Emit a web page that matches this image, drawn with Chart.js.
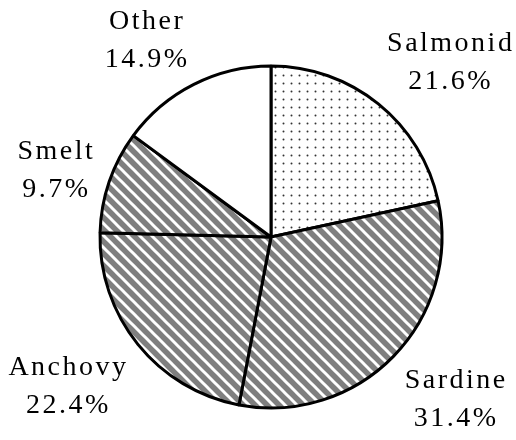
<!DOCTYPE html>
<html>
<head>
<meta charset="utf-8">
<script src="https://cdn.jsdelivr.net/npm/chart.js@4.4.1/dist/chart.umd.min.js"></script>
<style>
  html, body { margin: 0; padding: 0; background: #fff; }
  #wrap { width: 516px; height: 440px; position: relative; }
</style>
</head>
<body>
<div id="wrap"><canvas id="pieFish"></canvas></div>
<script>
const categories = ['Salmonid', 'Sardine', 'Anchovy', 'Smelt', 'Other'];
const shares = [21.6, 31.4, 22.4, 9.7, 14.9];

// fills: dotted, hatched, white
function dotFill() {
    const c = document.createElement('canvas');
    c.width = 8; c.height = 8;
    const g = c.getContext('2d');
    g.fillStyle = '#fff';
    g.fillRect(0, 0, 8, 8);
    g.fillStyle = '#333';
    g.beginPath();
    g.arc(3.5, 3.5, 1, 0, Math.PI * 2);
    g.fill();
    return g.createPattern(c, 'repeat');
}

function hatchFill() {
    const s = 12;
    const c = document.createElement('canvas');
    c.width = s; c.height = s;
    const g = c.getContext('2d');
    g.fillStyle = '#7f7f7f';
    g.fillRect(0, 0, s, s);
    g.strokeStyle = '#fff';
    g.lineWidth = 3;
    [-s, 0, s].forEach(function (k) {
        g.beginPath();
        g.moveTo(k - 2, -2);
        g.lineTo(k + s + 2, s + 2);
        g.stroke();
    });
    return g.createPattern(c, 'repeat');
}

const dots = dotFill();
const hatch = hatchFill();

const sliceLabels = {
    id: 'sliceLabels',
    afterDatasetsDraw(chart) {
        const ctx = chart.ctx;
        const arcs = chart.getDatasetMeta(0).data;
        const sp = 2.5;
        ctx.save();
        ctx.font = '28px "Liberation Serif", "Times New Roman", serif';
        ctx.letterSpacing = sp + 'px';
        ctx.fillStyle = '#000';
        ctx.textAlign = 'left';
        ctx.textBaseline = 'alphabetic';
        const capH = 18.5, gap = 38, h = capH + gap;
        arcs.forEach(function (arc, i) {
            const p = arc.getProps(['x', 'y', 'startAngle', 'endAngle', 'outerRadius'], true);
            const mid = (p.startAngle + p.endAngle) / 2;
            const dx = Math.cos(mid), dy = Math.sin(mid);
            const ax = p.x + (p.outerRadius + 19) * dx;
            const ay = p.y + (p.outerRadius + 19) * dy;
            const l1 = categories[i];
            const l2 = shares[i].toFixed(1) + '%';
            const w1 = ctx.measureText(l1).width;
            const w2 = ctx.measureText(l2).width;
            const w = Math.max(w1, w2);
            // push the text box away from the pie, corner first
            const fx = 0.93 * Math.max(-1, Math.min(1, dx * 3));
            const fy = Math.sign(dy) * Math.max(0, Math.min(1, (Math.abs(dy) - 0.25) * 3));
            const cx = ax + fx * w / 2;
            const cy = ay + fy * h / 2;
            ctx.fillText(l1, cx - w1 / 2 + sp / 2, cy - h / 2 + capH);
            ctx.fillText(l2, cx - w2 / 2 + sp / 2, cy + h / 2);
        });
        ctx.restore();
    }
};

const pie = document.getElementById('pieFish');

new Chart(pie, {
    type: 'pie',
    data: {
        labels: categories,
        datasets: [{
            data: shares,
            backgroundColor: [dots, hatch, hatch, hatch, '#fff'],
            borderColor: '#000',
            borderWidth: 3,
            hoverOffset: 0
        }]
    },
    options: {
        responsive: true,
        maintainAspectRatio: false,
        animation: false,
        events: [],
        layout: {
            padding: { top: 64.5, left: 98.5, right: 72.5, bottom: 30.5 }
        },
        plugins: {
            legend: { display: false },
            tooltip: { enabled: false }
        }
    },
    plugins: [sliceLabels]
});
</script>
</body>
</html>
